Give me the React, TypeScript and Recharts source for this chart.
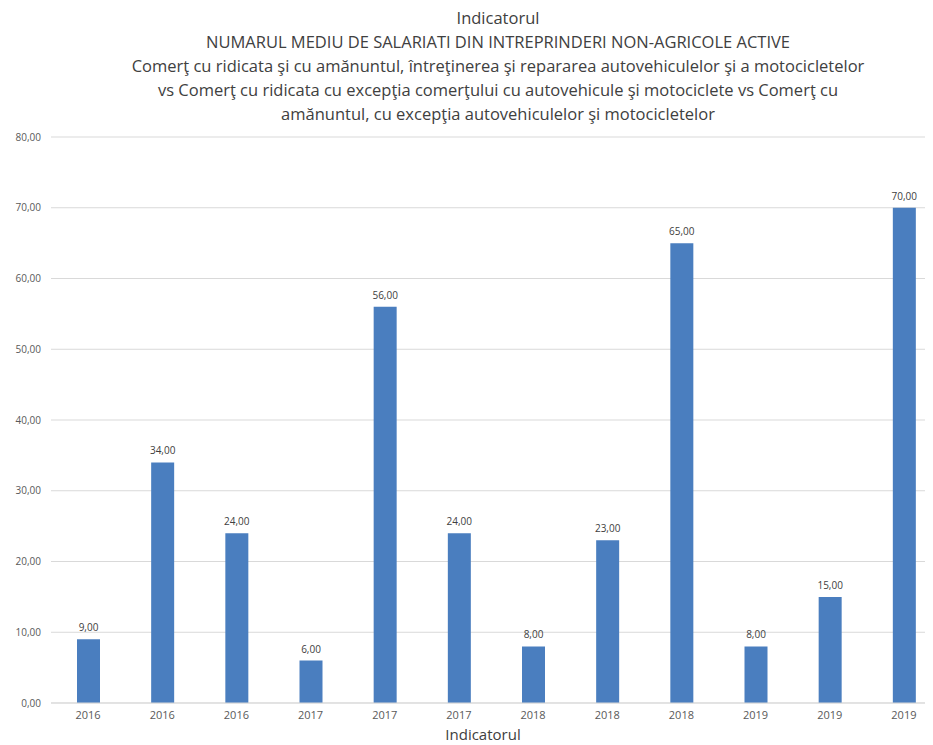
import { BarChart, Bar, XAxis, YAxis, CartesianGrid, LabelList } from 'recharts';

const YEARS = ['2016', '2016', '2016', '2017', '2017', '2017', '2018', '2018', '2018', '2019', '2019', '2019'];
const VALUES = [9, 34, 24, 6, 56, 24, 8, 23, 65, 8, 15, 70];
const Y_TICKS = [0, 10, 20, 30, 40, 50, 60, 70, 80];
const TITLE_LINES = [
  'Indicatorul',
  'NUMARUL MEDIU DE SALARIATI DIN INTREPRINDERI NON-AGRICOLE ACTIVE',
  'Comerţ cu ridicata şi cu amănuntul, întreţinerea şi repararea autovehiculelor şi a motocicletelor',
  'vs Comerţ cu ridicata cu excepţia comerţului cu autovehicule şi motociclete vs Comerţ cu',
  'amănuntul, cu excepţia autovehiculelor şi motocicletelor',
];

const data = VALUES.map((v, i) => ({ id: `c${i}`, year: YEARS[i], value: v }));

const fmt = (v: number) => v.toFixed(2).replace('.', ',');
const FONT = '"Open Sans", "Noto Sans", sans-serif';

export default function App() {
  return (
    <div style={{ position: 'relative', margin: '-8px 0 0 -8px', width: 933, height: 745, overflow: 'hidden', background: '#fff', fontFamily: FONT }}>
      <div style={{ position: 'absolute', left: 0, top: 6, width: 996, textAlign: 'center', color: '#404040', fontSize: 16.5, lineHeight: '24px', zIndex: 1 }}>
        {TITLE_LINES.map((t, i) => (
          <div key={i}>{t}</div>
        ))}
      </div>
      <BarChart width={945} height={745} data={data} margin={{ top: 137, right: 4, left: 0, bottom: 0 }}>
        <CartesianGrid vertical={false} stroke="#d9d9d9" />
        <XAxis
          dataKey="id"
          height={42}
          tickLine={false}
          axisLine={{ stroke: '#d9d9d9' }}
          tick={{ fill: '#595959', fontSize: 11, fontFamily: FONT }}
          tickFormatter={(_v: string, i: number) => YEARS[i]}
          tickMargin={2}
          interval={0}
          label={{ value: 'Indicatorul', position: 'insideBottom', offset: 5, dx: -13, fill: '#404040', fontSize: 15, fontFamily: FONT }}
        />
        <YAxis
          width={51}
          domain={[0, 80]}
          ticks={Y_TICKS}
          tickLine={false}
          axisLine={false}
          tick={{ fill: '#595959', fontSize: 10, fontFamily: FONT }}
          tickFormatter={fmt}
          tickMargin={4}
        />
        <Bar dataKey="value" fill="#4a7ebf" barSize={23} isAnimationActive={false}>
          <LabelList dataKey="value" position="top" offset={8} formatter={(v: number) => fmt(v)} style={{ fill: '#404040', fontSize: 10, fontFamily: FONT }} />
        </Bar>
      </BarChart>
    </div>
  );
}
